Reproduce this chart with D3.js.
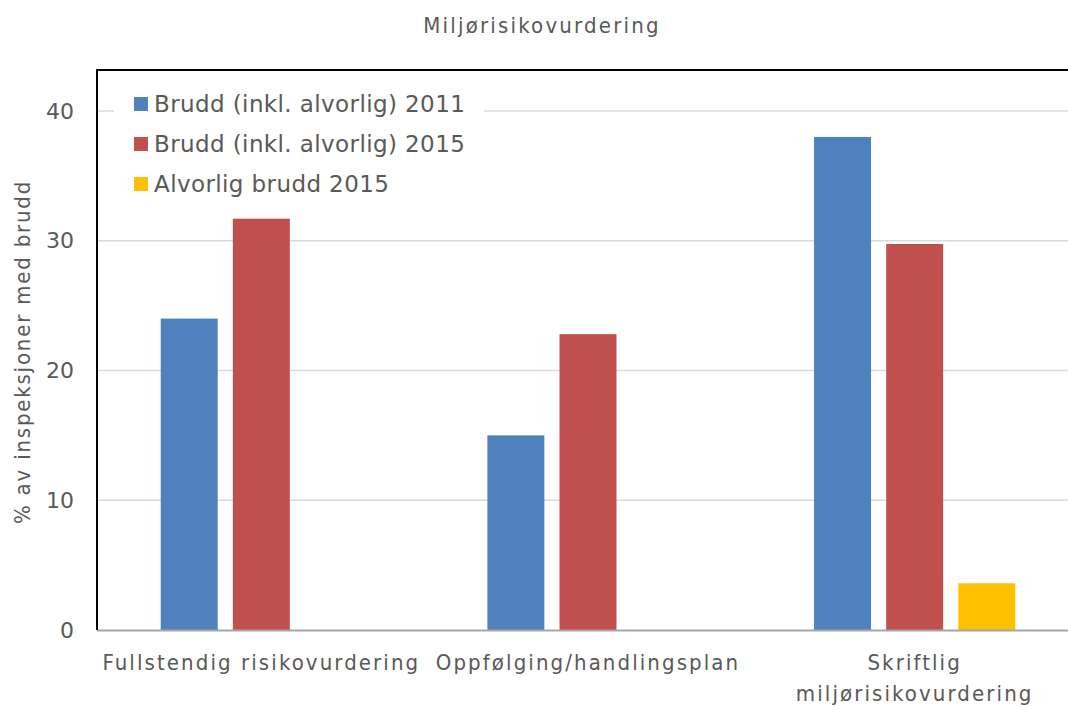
<!DOCTYPE html>
<html lang="no">
<head>
<meta charset="UTF-8">
<title>Miljørisikovurdering</title>
<script src="https://cdn.jsdelivr.net/npm/d3@7"></script>
<style>
    body { margin: 0; background: #fff; }
    svg { display: block; }
    .tick text { fill: #595959; }
    .lbl { fill: #595959; font-family: "DejaVu Sans Condensed", "DejaVu Sans", sans-serif; }
</style>
</head>
<body>
<script>
    // data
    const categories = ["Fullstendig risikovurdering", "Oppfølging/handlingsplan", "Skriftlig miljørisikovurdering"];
    const catLines = [["Fullstendig risikovurdering"], ["Oppfølging/handlingsplan"], ["Skriftlig", "miljørisikovurdering"]];
    const seriesNames = ["Brudd (inkl. alvorlig) 2011", "Brudd (inkl. alvorlig) 2015", "Alvorlig brudd 2015"];
    const brudd2011 = [24, 15, 38];
    const brudd2015 = [31.7, 22.8, 29.75];
    const alvorlig2015 = [null, null, 3.6];
    const yTicks = [0, 10, 20, 30, 40];
    const colors = ["#4f81bd", "#c0504d", "#ffc000"];

    const width = 1068, height = 707;
    const margin = {top: 70, left: 98, right: -10, bottom: 77};

    const svg = d3.select("body").append("svg")
        .attr("width", width)
        .attr("height", height);

    const x0 = d3.scaleBand()
        .domain(categories)
        .range([margin.left, width - margin.right])
        .paddingInner(0.384)
        .paddingOuter(0.192);
    const x1 = d3.scaleBand()
        .domain(seriesNames)
        .range([0, x0.bandwidth()])
        .paddingInner(0.21);
    const y = d3.scaleLinear()
        .domain([0, 40])
        .range([630, 111]);

    // gridlines
    svg.append("g")
        .selectAll("line")
        .data(yTicks.filter(d => d > 0))
        .enter()
        .append("line")
        .attr("x1", margin.left)
        .attr("x2", width)
        .attr("y1", d => y(d))
        .attr("y2", d => y(d))
        .attr("stroke", "#d9d9d9")
        .attr("stroke-width", 1.5);

    // bars
    const series = [brudd2011, brudd2015, alvorlig2015];
    const groups = svg.append("g")
        .selectAll("g")
        .data(series)
        .enter()
        .append("g")
        .attr("fill", (d, i) => colors[i]);
    groups.selectAll("rect")
        .data((vals, si) => vals.map((v, ci) => ({v, ci, si})).filter(d => d.v != null))
        .enter()
        .append("rect")
        .attr("x", d => x0(categories[d.ci]) + x1(seriesNames[d.si]))
        .attr("width", x1.bandwidth())
        .attr("y", d => y(d.v))
        .attr("height", d => y(0) - y(d.v));

    // baseline
    svg.append("line")
        .attr("x1", margin.left - 1)
        .attr("x2", width)
        .attr("y1", y(0) + 0.5)
        .attr("y2", y(0) + 0.5)
        .attr("stroke", "#a6a6a6")
        .attr("stroke-width", 2);

    // plot frame (left and top)
    svg.append("path")
        .attr("d", `M${margin.left - 1},${y(0)} V${margin.top} H${width}`)
        .attr("fill", "none")
        .attr("stroke", "#000")
        .attr("stroke-width", 2);

    // y axis
    const yAxis = svg.append("g")
        .attr("transform", `translate(74,0)`)
        .call(d3.axisLeft(y).tickValues(yTicks).tickSize(0).tickPadding(0));
    yAxis.select(".domain").remove();
    yAxis.selectAll("text")
        .attr("font-family", "'DejaVu Sans', sans-serif")
        .attr("font-size", 22);

    // y axis title
    svg.append("text")
        .attr("class", "lbl")
        .attr("transform", "translate(30,352) rotate(-90)")
        .attr("text-anchor", "middle")
        .attr("font-size", 22)
        .attr("letter-spacing", 1.8)
        .text("% av inspeksjoner med brudd");

    // category labels
    const xl = svg.append("g")
        .selectAll("text")
        .data(categories)
        .enter()
        .append("text")
        .attr("class", "lbl")
        .attr("text-anchor", "middle")
        .attr("font-size", 22)
        .attr("letter-spacing", 2.1)
        .attr("x", d => x0(d) + x0.bandwidth() / 2)
        .attr("y", 670);
    xl.selectAll("tspan")
        .data((d, i) => catLines[i])
        .enter()
        .append("tspan")
        .attr("x", function () { return d3.select(this.parentNode).attr("x"); })
        .attr("dy", (d, i) => i === 0 ? 0 : 31)
        .text(d => d);

    // title
    svg.append("text")
        .attr("class", "lbl")
        .attr("x", 542)
        .attr("y", 33)
        .attr("text-anchor", "middle")
        .attr("font-size", 22)
        .attr("letter-spacing", 2.2)
        .text("Miljørisikovurdering");

    // legend
    const legendG = svg.append("g");
    legendG.append("rect")
        .attr("x", 114)
        .attr("y", 84)
        .attr("width", 370)
        .attr("height", 118)
        .attr("fill", "#fff");
    const legend = legendG.selectAll("g")
        .data(seriesNames)
        .enter()
        .append("g")
        .attr("transform", (d, i) => `translate(134,${104 + i * 40})`);
    legend.append("rect")
        .attr("y", -7)
        .attr("width", 14)
        .attr("height", 14)
        .attr("fill", (d, i) => colors[i]);
    legend.append("text")
        .attr("x", 20)
        .attr("dy", "0.35em")
        .attr("fill", "#595959")
        .attr("font-family", "'DejaVu Sans', sans-serif")
        .attr("font-size", 23)
        .attr("letter-spacing", 0.4)
        .text(d => d);
</script>
</body>
</html>
